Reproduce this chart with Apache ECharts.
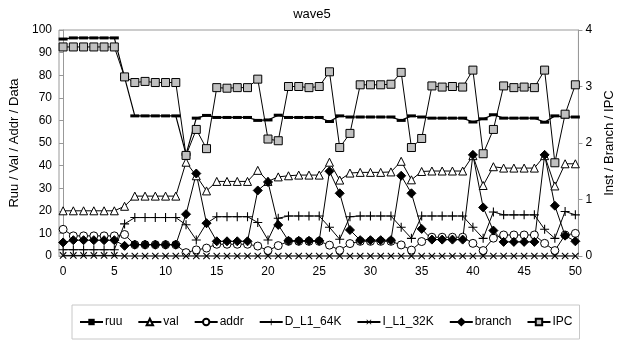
<!DOCTYPE html>
<html>
<head>
<meta charset="utf-8">
<script src="https://cdn.jsdelivr.net/npm/echarts@6/dist/echarts.min.js"></script>
<style>
  html, body { margin: 0; padding: 0; background: #fff; }
  #ec { width: 624px; height: 342px; }
</style>
</head>
<body>
<div id="ec"></div>
<script>
// x 轴刻度
var xTicks = [0, 5, 10, 15, 20, 25, 30, 35, 40, 45, 50];

// 左轴 (Ruu / Val / Addr / Data)
var ruu = [96, 96.5, 96.5, 96.5, 96.5, 96.5, 79, 62, 62, 62, 62, 62, 45, 61, 62.2, 61.3, 61.3, 61.3, 61.3, 60, 60.2, 62.3, 61.3, 61.3, 61.3, 61.3, 59.5, 62, 61.5, 61.5, 61.5, 61.5, 61.5, 60, 62, 61.5, 61, 61, 61, 61, 59.3, 60.7, 62.5, 61, 61, 61, 61, 59.2, 62, 61.5, 61.5];
var val = [20, 20, 20, 20, 20, 20, 22, 26.5, 26.5, 26.5, 26.5, 26.5, 41.5, 35.5, 28.8, 33, 33, 33, 33, 37.9, 33, 35, 35.5, 35.8, 35.8, 35.8, 41.5, 33.6, 36.7, 37, 37, 37, 37.2, 41.9, 33.7, 37.4, 37.6, 37.6, 37.6, 37.6, 44.4, 31.2, 39.5, 38.9, 38.9, 38.9, 38.9, 44.4, 31, 40.8, 40.8];
var addr = [11.8, 8.9, 8.9, 8.9, 8.9, 8.9, 9.5, 5, 5, 5, 5, 5, 1.5, 2.7, 3.5, 5.2, 5.2, 5.2, 5.2, 4.4, 2.4, 4.6, 6.5, 6.5, 6.5, 6.5, 4.8, 2.5, 5.5, 6.5, 6.5, 6.5, 6.5, 4.9, 2.6, 6.4, 8.3, 8.3, 8.3, 8.3, 5.6, 2.4, 7.9, 9.3, 9.3, 9.3, 9.3, 5.6, 2.4, 9.3, 10];
var dL1 = [2.8, 2.8, 2.8, 2.8, 2.8, 2.8, 14.2, 17, 17, 17, 17, 17, 13.8, 7.1, 14.5, 17.4, 17.4, 17.4, 17.4, 14.8, 7.1, 16.7, 17.7, 17.7, 17.7, 17.7, 12.7, 7.4, 17.4, 17.7, 17.7, 17.7, 17.7, 12.7, 7.8, 17.7, 17.7, 17.7, 17.7, 17.7, 12.7, 7.8, 19.5, 18.2, 18.2, 18.2, 18.2, 11.8, 7.8, 19.7, 18.2];

// 右轴 (Inst / Branch / IPC)
var iL1 = [0.01, 0.01, 0.01, 0.01, 0.01, 0.01, 0, 0, 0, 0, 0, 0, 0, 0, 0, 0, 0, 0, 0, 0, 0, 0, 0, 0, 0, 0, 0, 0, 0, 0, 0, 0, 0, 0, 0, 0, 0, 0, 0, 0, 0, 0, 0, 0, 0, 0, 0, 0, 0, 0, 0];
var branch = [0.24, 0.28, 0.28, 0.28, 0.28, 0.28, 0.18, 0.2, 0.2, 0.2, 0.2, 0.2, 0.74, 1.46, 0.58, 0.26, 0.26, 0.26, 0.26, 1.16, 1.31, 0.55, 0.27, 0.27, 0.27, 0.27, 1.5, 1.11, 0.46, 0.28, 0.28, 0.28, 0.28, 1.42, 1.11, 0.48, 0.29, 0.29, 0.29, 0.29, 1.79, 0.86, 0.45, 0.25, 0.25, 0.25, 0.25, 1.79, 0.89, 0.36, 0.26];
var ipc = [3.7, 3.7, 3.7, 3.7, 3.7, 3.7, 3.17, 3.07, 3.09, 3.07, 3.07, 3.07, 1.78, 2.24, 1.9, 2.98, 2.97, 2.98, 2.98, 3.13, 2.07, 2.04, 3.0, 3.0, 2.98, 3.0, 3.26, 1.92, 2.17, 3.03, 3.03, 3.03, 3.04, 3.25, 1.92, 2.08, 3.01, 2.99, 3.0, 2.99, 3.29, 1.81, 2.24, 3.01, 2.98, 2.99, 2.98, 3.29, 1.65, 2.51, 3.03];

var FONT = 'Liberation Sans, Arial, sans-serif';
var ec = echarts.init(document.getElementById('ec'), null, { renderer: 'canvas' });

function pts(arr) {
  return arr.map(function(v, i) { return [i, v]; });
}

// 每条线的样式
function mk(name, arr, yIdx, symbol, size, fill, opts) {
  var s = {
    name: name,
    type: 'line',
    yAxisIndex: yIdx,
    data: pts(arr),
    symbol: symbol,
    symbolSize: size,
    showSymbol: true,
    animation: false,
    lineStyle: { color: '#000', width: 1 },
    itemStyle: { color: fill, borderColor: '#000', borderWidth: 1 }
  };
  for (var k in opts) s[k] = opts[k];
  return s;
}

var plusPath = 'path://M4.4,0H5.6V4.4H10V5.6H5.6V10H4.4V5.6H0V4.4H4.4Z';
var dashPath = 'path://M0,0H10V3H0Z';

var series = [
  mk('ruu', ruu, 0, dashPath, [9, 3], '#000', { lineStyle: { color: '#000', width: 1.2 }, itemStyle: { color: '#000', borderWidth: 0 } }),
  mk('val', val, 0, 'triangle', 8, '#fff', {}),
  mk('addr', addr, 0, 'circle', 8, '#fff', {}),
  mk('D_L1_64K', dL1, 0, plusPath, 9, '#000', { itemStyle: { color: '#000', borderWidth: 0 } }),
  mk('I_L1_32K', iL1, 1, plusPath, 9, '#000', { symbolRotate: 45, itemStyle: { color: '#000', borderWidth: 0 } }),
  mk('branch', branch, 1, 'diamond', 9, '#000', {}),
  mk('IPC', ipc, 1, 'rect', 8, '#c0c0c0', {})
];

var option = {
  backgroundColor: '#fff',
  animation: false,
  textStyle: { fontFamily: FONT, color: '#000' },
  title: {
    text: 'wave5',
    left: 'center',
    top: 3,
    textStyle: { fontFamily: FONT, fontSize: 13, fontWeight: 'normal', color: '#000' }
  },
  legend: {
    left: 72,
    top: 305,
    padding: [11, 7],
    borderColor: '#c8c8c8',
    borderWidth: 1,
    itemWidth: 23,
    itemHeight: 8,
    itemGap: 15,
    textStyle: { fontFamily: FONT, fontSize: 12, color: '#000', padding: [0, 0, 0, -3] },
    data: ['ruu', 'val', 'addr', 'D_L1_64K', 'I_L1_32K', 'branch', 'IPC']
  },
  grid: {
    left: 59,
    right: 41,
    top: 30,
    bottom: 86,
    show: true,
    borderColor: '#999',
    borderWidth: 1
  },
  xAxis: {
    type: 'value',
    min: -0.4,
    max: 50.3,
    axisLine: { show: true, lineStyle: { color: '#999' } },
    axisTick: { show: false },
    splitLine: { show: false },
    axisLabel: {
      customValues: xTicks,
      fontFamily: FONT,
      fontSize: 12,
      color: '#000',
      margin: 10
    }
  },
  yAxis: [{
    type: 'value',
    min: 0,
    max: 100,
    interval: 10,
    name: 'Ruu / Val / Addr / Data',
    nameLocation: 'middle',
    nameGap: 38,
    nameTextStyle: { fontFamily: FONT, fontSize: 13, color: '#000' },
    axisLine: { show: true, lineStyle: { color: '#999' } },
    axisTick: { show: true, length: 4, lineStyle: { color: '#999' } },
    splitLine: { show: false },
    axisLabel: { fontFamily: FONT, fontSize: 12, color: '#000', margin: 7 }
  }, {
    type: 'value',
    min: 0,
    max: 4,
    interval: 1,
    name: 'Inst / Branch / IPC',
    nameLocation: 'middle',
    nameGap: 22,
    nameRotate: 90,
    nameTextStyle: { fontFamily: FONT, fontSize: 13, color: '#000' },
    axisLine: { show: true, lineStyle: { color: '#999' } },
    axisTick: { show: true, length: 4, lineStyle: { color: '#999' } },
    splitLine: { show: false },
    axisLabel: { fontFamily: FONT, fontSize: 12, color: '#000', margin: 7 }
  }],
  series: series
};

ec.setOption(option);
</script>
</body>
</html>
